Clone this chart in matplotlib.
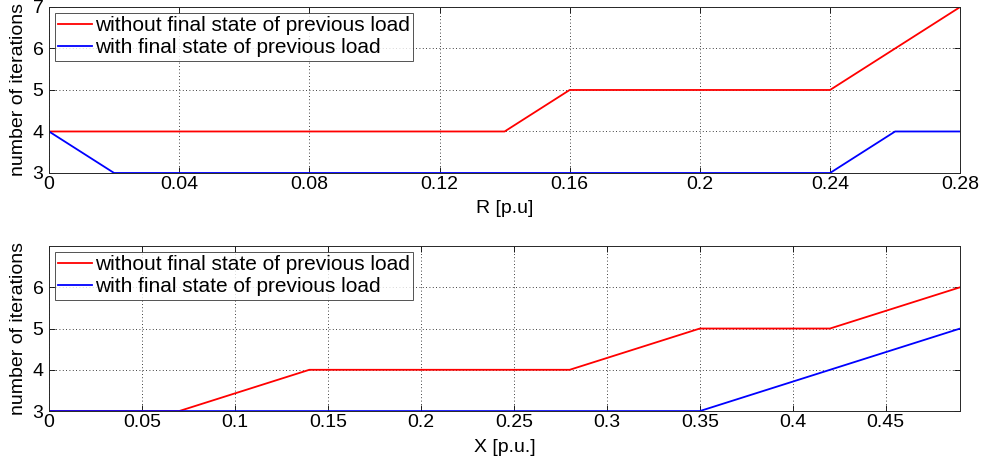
import numpy as np
from matplotlib import pyplot as plt

plt.rcParams['font.family'] = ['Liberation Sans', 'DejaVu Sans']
plt.rcParams['font.size'] = 10

# top panel: load resistance sweep
r_vals = [0, 0.02, 0.04, 0.06, 0.08, 0.10, 0.12, 0.14, 0.16, 0.18, 0.20, 0.22, 0.24, 0.26, 0.28]
r_without = [4, 4, 4, 4, 4, 4, 4, 4, 5, 5, 5, 5, 5, 6, 7]
r_with = [4, 3, 3, 3, 3, 3, 3, 3, 3, 3, 3, 3, 3, 4, 4]
r_ticks = [0, 0.04, 0.08, 0.12, 0.16, 0.2, 0.24, 0.28]
r_ticklabels = ['0', '0.04', '0.08', '0.12', '0.16', '0.2', '0.24', '0.28']

# bottom panel: load reactance sweep
x_vals = [0, 0.07, 0.14, 0.21, 0.28, 0.35, 0.42, 0.49]
x_without = [3, 3, 4, 4, 4, 5, 5, 6]
x_with = [3, 3, 3, 3, 3, 3, 4, 5]
x_ticks = [0, 0.05, 0.1, 0.15, 0.2, 0.25, 0.3, 0.35, 0.4, 0.45]
x_ticklabels = ['0', '0.05', '0.1', '0.15', '0.2', '0.25', '0.3', '0.35', '0.4', '0.45']

lbl_without = 'without final state of previous load'
lbl_with = 'with final state of previous load'

fs = 14

fig = plt.figure(figsize=(9.84, 4.65), dpi=100)
ax1 = fig.add_axes([0.0498, 0.628, 0.926, 0.357])
ax2 = fig.add_axes([0.0498, 0.116, 0.926, 0.355])

def style(ax, xlim, xticks, xticklabels, yticks, xlabel, xpad):
    ax.set_xlim(xlim)
    ax.set_ylim(3, 7)
    ax.set_xticks(xticks)
    ax.set_xticklabels(xticklabels)
    ax.set_yticks(yticks)
    ax.tick_params(direction='in', top=True, right=True, labelsize=fs, length=4,
                   width=0.6, pad=2, colors='black')
    ax.tick_params(axis='y', pad=4)
    ax.grid(True, linestyle=(0, (1, 3)), color='black', linewidth=0.6)
    for s in ax.spines.values():
        s.set_linewidth(0.7)
        s.set_color('#262626')
    ax.set_xlabel(xlabel, fontsize=fs, labelpad=xpad)
    ax.set_ylabel('number of iterations', fontsize=fs)
    ax.yaxis.set_label_coords(-0.024, 0.5)
    leg = ax.legend(loc='upper left', fontsize=15, frameon=True, fancybox=False,
                    borderaxespad=0.3, handlelength=1.6, handletextpad=0.15,
                    borderpad=0.15, labelspacing=0.15)
    leg.get_frame().set_edgecolor('#262626')
    leg.get_frame().set_linewidth(0.7)

ax1.plot(r_vals, r_without, color='red', linewidth=1.3, label=lbl_without)
ax1.plot(r_vals, r_with, color='blue', linewidth=1.3, label=lbl_with)
style(ax1, (0, 0.28), r_ticks, r_ticklabels, [3, 4, 5, 6, 7], 'R [p.u]', 5)

ax2.plot(x_vals, x_without, color='red', linewidth=1.3, label=lbl_without)
ax2.plot(x_vals, x_with, color='blue', linewidth=1.3, label=lbl_with)
style(ax2, (0, 0.49), x_ticks, x_ticklabels, [3, 4, 5, 6], 'X [p.u.]', 6)

plt.savefig('out.png', dpi=100)
